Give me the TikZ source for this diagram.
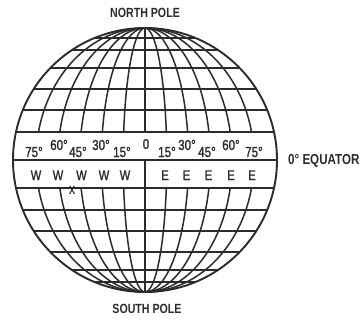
\documentclass[tikz,border=0pt]{standalone}
\usepackage{fontspec}
\newfontfamily\condb[FakeStretch=0.8]{Liberation Sans Bold}
\newfontfamily\condr[FakeStretch=0.8,FakeBold=1.2]{Liberation Sans}
\definecolor{ink}{HTML}{2b2b2b}
\tikzset{
  grid/.style={draw=ink, line width=1.5pt},
  rim/.style={draw=ink, line width=1.9pt},
  title/.style={text=ink, inner sep=0pt, font=\condb\fontsize{13.3}{14}\selectfont},
  deg/.style={text=ink, inner sep=0pt, anchor=base west, font=\condr\fontsize{14.5}{15}\selectfont},
  letter/.style={text=ink, inner sep=0pt, anchor=base, font=\condr\fontsize{14}{15}\selectfont},
}
\begin{document}
\begin{tikzpicture}[x=1pt,y=-1pt]
\useasboundingbox (0,0) rectangle (364,322);
% latitude lines
\foreach \d in {28,50,71,92,110,122}{
  \pgfmathsetmacro\h{132*sqrt(1-(\d/132)*(\d/132))}
  \draw[grid] ({145-\h},{160-\d}) -- ({145+\h},{160-\d});
  \draw[grid] ({145-\h},{160+\d}) -- ({145+\h},{160+\d});
}
\draw[grid] (13,160) -- (277,160);
% meridians
\foreach \k in {1,...,5}{
  \pgfmathsetmacro\a{21.8*\k}
  \draw[grid] plot[domain=0:77.75, samples=40, variable=\t] ({145-\a*sin(\t)},{160-132*cos(\t)});
  \draw[grid] plot[domain=0:77.75, samples=40, variable=\t] ({145+\a*sin(\t)},{160-132*cos(\t)});
  \draw[grid] plot[domain=102.25:180, samples=40, variable=\t] ({145-\a*sin(\t)},{160-132*cos(\t)});
  \draw[grid] plot[domain=102.25:180, samples=40, variable=\t] ({145+\a*sin(\t)},{160-132*cos(\t)});
}
\draw[grid] (145,28) -- (145,132);
\draw[grid] (145,160) -- (145,292);
% rim
\draw[rim] (145,160) circle[radius=132];
% titles
\node[title] (np) at (145,12.5) {NORTH POLE};
\node[title] (sp) at (147,308.5) {SOUTH POLE};
\node[title, anchor=west, font=\condb\fontsize{14.5}{15}\selectfont] (eq) at (288,161) {0° EQUATOR};
% degree labels
\node[deg] (w75) at (25,157) {75°};
\node[deg] (w60) at (50,150) {60°};
\node[deg] (w45) at (69,157) {45°};
\node[deg] (w30) at (92,150) {30°};
\node[deg] (w15) at (113,157) {15°};
\node[deg, anchor=base] (z0) at (146,149) {0};
\node[deg] (e15) at (158,157) {15°};
\node[deg] (e30) at (178,150) {30°};
\node[deg] (e45) at (198,157) {45°};
\node[deg] (e60) at (222,150) {60°};
\node[deg] (e75) at (245,157) {75°};
% W / E
\foreach \x/\n in {36/1,58/2,81.5/3,104/4,125/5}{
  \node[letter] (w\n) at (\x,180) {W};
}
\foreach \x/\n in {165/1,186.5/2,208.5/3,231/4,252/5}{
  \node[letter] (e\n) at (\x,180) {E};
}
\node[letter, font=\condr\fontsize{11}{12}\selectfont, anchor=center] (xm) at (72,190) {X};
\end{tikzpicture}
\end{document}
